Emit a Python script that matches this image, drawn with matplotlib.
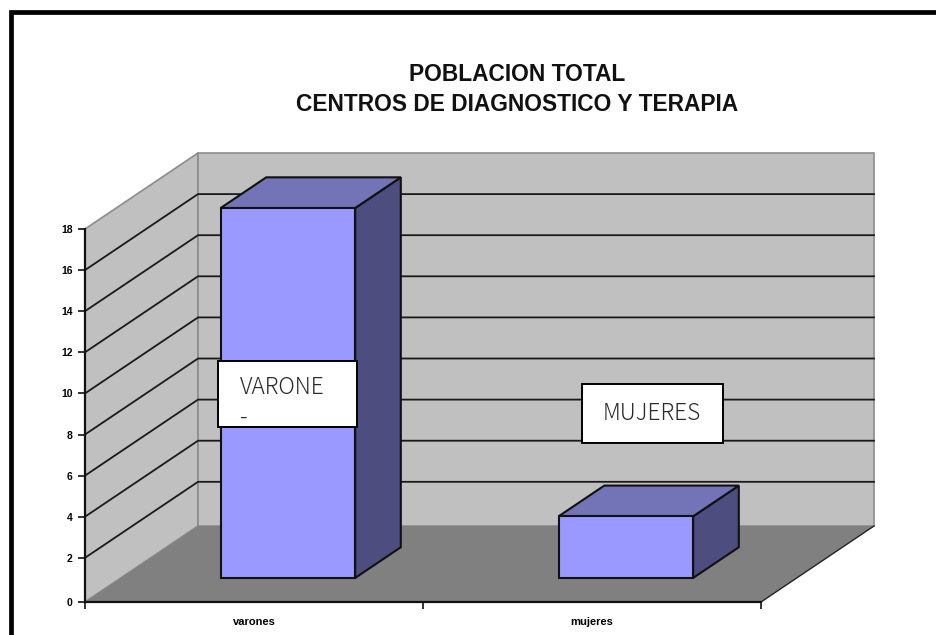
import matplotlib
matplotlib.use("Agg")
import matplotlib.pyplot as plt
from matplotlib.patches import Polygon, Rectangle

categories = ["varones", "mujeres"]
values = [18, 3]
y_ticks = [0, 2, 4, 6, 8, 10, 12, 14, 16, 18]
title = "POBLACION TOTAL\nCENTROS DE DIAGNOSTICO Y TERAPIA"
box_labels = ["VARONE\n-", "MUJERES"]

W, H = 936, 635
plt.rcParams['font.family'] = ['Liberation Sans', 'DejaVu Sans']
fig = plt.figure(figsize=(W / 100, H / 100), dpi=100, facecolor='white')

# full-figure overlay in pixel coordinates, for the frame and text boxes
ov = fig.add_axes([0, 0, 1, 1], zorder=5)
ov.set_xlim(0, W)
ov.set_ylim(H, 0)
ov.axis('off')
ov.patch.set_alpha(0)

# plot axes: x in category units, y in value units
L, R, B, T = 85, 761, 602, 229
FLOOR = -0.15
ymax = 18
nc = len(categories)
ax = fig.add_axes([L / W, 1 - B / H, (R - L) / W, (B - T) / H], zorder=2)
ax.set_xlim(0, nc)
ax.set_ylim(FLOOR, ymax)
ax.patch.set_alpha(0)
DX = 113 / ((R - L) / nc)
DY = 76 / ((B - T) / (ymax - FLOOR))


def pt(x, y, d):
    return (x + d * DX, y + d * DY)


def poly(points, fc, ec='none', lw=0, z=1):
    ax.add_patch(Polygon(points, closed=True, fc=fc, ec=ec, lw=lw, zorder=z,
                         clip_on=False, joinstyle='miter'))


WALL = '#c0c0c0'
poly([pt(0, FLOOR, 0), pt(0, FLOOR, 1), pt(0, ymax, 1), pt(0, ymax, 0)], WALL, '#8c8c8c', 1.2, 1)
poly([pt(0, FLOOR, 1), pt(nc, FLOOR, 1), pt(nc, ymax, 1), pt(0, ymax, 1)], WALL, '#8c8c8c', 1.2, 1)
poly([pt(0, FLOOR, 0), pt(nc, FLOOR, 0), pt(nc, FLOOR, 1), pt(0, FLOOR, 1)], '#808080', z=2)
e0, e1 = pt(nc, FLOOR, 0), pt(nc, FLOOR, 1)
ax.plot([e0[0], e1[0]], [e0[1], e1[1]], color='#222222', lw=1.0, zorder=3, clip_on=False)

for v in y_ticks[1:-1]:
    a, b, c = pt(0, v, 0), pt(0, v, 1), pt(nc, v, 1)
    ax.plot([a[0], b[0], c[0]], [a[1], b[1], c[1]], color='#1a1a1a', lw=1.3, zorder=3, clip_on=False)

for i, v in enumerate(values):
    c = i + 0.508
    w = 0.199
    d0, d1 = 0.276, 0.68
    x0, x1 = c - w, c + w
    poly([pt(x1, 0, d0), pt(x1, 0, d1), pt(x1, v, d1), pt(x1, v, d0)], '#4d4d80', '#111111', 1.5, 4)
    poly([pt(x0, v, d0), pt(x1, v, d0), pt(x1, v, d1), pt(x0, v, d1)], '#7373b8', '#111111', 1.5, 4)
    poly([pt(x0, 0, d0), pt(x1, 0, d0), pt(x1, v, d0), pt(x0, v, d0)], '#9999ff', '#111111', 1.5, 5)

for s in ['top', 'right']:
    ax.spines[s].set_visible(False)
for s in ['left', 'bottom']:
    ax.spines[s].set_linewidth(1.6)
    ax.spines[s].set_color('#111111')
    ax.spines[s].set_zorder(6)
ax.set_yticks([FLOOR] + y_ticks[1:], [str(v) for v in y_ticks])
ax.set_xticks(range(nc + 1))
ax.set_xticklabels([])
ax.set_xticks([i + 0.5 for i in range(nc)], categories, minor=True)
ax.tick_params(axis='x', which='minor', length=0, labelsize=8, pad=11)
ax.tick_params(axis='x', which='major', length=5, width=1.2, color='#111111')
ax.tick_params(axis='y', length=5, width=1.2, color='#111111', labelsize=7.5, pad=4)
for t in ax.get_xticklabels(minor=True) + ax.get_yticklabels():
    t.set_fontweight('bold')

fig.text(517 / W, 1 - 89.5 / H, title, ha='center', va='center', fontsize=16.4,
         fontweight='bold', color='#111111', linespacing=1.36)

# outer frame: left and top edges only
ov.plot([11, 11, W], [H, 12, 12], color='black', lw=3.4,
        solid_joinstyle='miter', clip_on=False)

# text boxes
boxes = [(218, 361, 139, 66, 240, 402), (582, 384, 141, 59, 603, 413)]
for (x, y, w, h, tx, ty), lab in zip(boxes, box_labels):
    ov.add_patch(Rectangle((x, y), w, h, fc='white', ec='black', lw=1.4, zorder=7))
    ov.text(tx, ty, lab, ha='left', va='center', fontsize=16.3, color='#2a2a2a', zorder=8,
            family=['Noto Sans CJK JP', 'DejaVu Sans'], fontweight='light', linespacing=1.25)

fig.savefig('out.png', dpi=100, facecolor='white')
